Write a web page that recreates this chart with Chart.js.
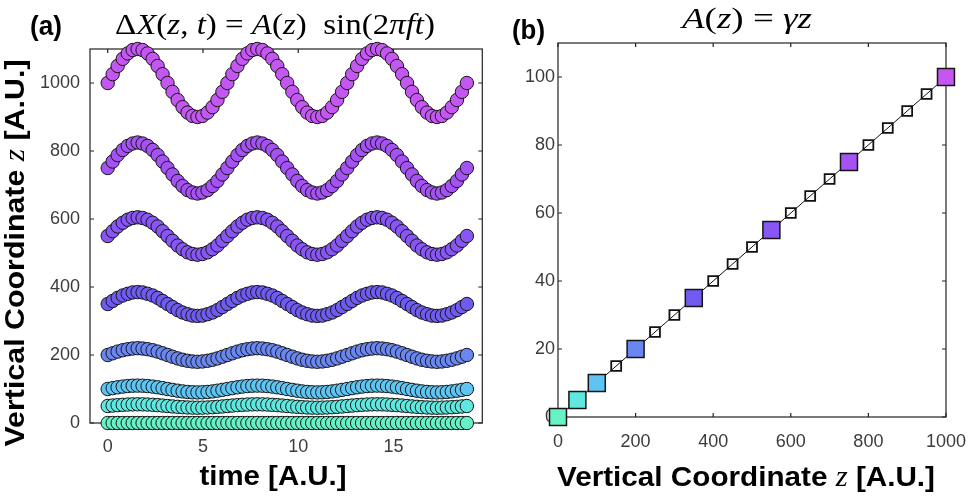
<!DOCTYPE html>
<html lang="en">
<head>
<meta charset="UTF-8">
<title>Amplitude vs vertical coordinate</title>
<script src="https://cdn.jsdelivr.net/npm/chart.js"></script>
<style>
  body { margin: 0; background: #fff; }
  #wrap { position: relative; width: 980px; height: 498px; }
  .panel { position: absolute; top: 0; width: 490px; height: 498px; }
</style>
</head>
<body>
<div id="wrap">
  <div class="panel" style="left:0"><canvas id="panelA"></canvas></div>
  <div class="panel" style="left:490px"><canvas id="panelB"></canvas></div>
</div>
<script>
// ---- data ----
// panel (a): time samples and the displaced vertical coordinate of each marker row
const time = [
  0, 0.26, 0.52, 0.79, 1.05, 1.31, 1.57, 1.83, 2.09, 2.36, 2.62, 2.88,
  3.14, 3.40, 3.67, 3.93, 4.19, 4.45, 4.71, 4.97, 5.24, 5.50, 5.76, 6.02,
  6.28, 6.54, 6.81, 7.07, 7.33, 7.59, 7.85, 8.12, 8.38, 8.64, 8.90, 9.16,
  9.42, 9.69, 9.95, 10.21, 10.47, 10.73, 11.00, 11.26, 11.52, 11.78, 12.04, 12.30,
  12.57, 12.83, 13.09, 13.35, 13.61, 13.87, 14.14, 14.40, 14.66, 14.92, 15.18, 15.45,
  15.71, 15.97, 16.23, 16.49, 16.76, 17.02, 17.28, 17.54, 17.80, 18.06, 18.33, 18.59,
  18.85
];
const zRows = [0, 50, 100, 200, 350, 550, 750, 1000];

const row0 = [
  0,0,0,0,0,0,0,0,0,0,0,0,0,0,0,0,0,0,0,0,0,0,0,0,
  0,0,0,0,0,0,0,0,0,0,0,0,0,0,0,0,0,0,0,0,0,0,0,0,
  0,0,0,0,0,0,0,0,0,0,0,0,0,0,0,0,0,0,0,0,0,0,0,0,
  0
];
const row50 = [
  50,51.3,52.5,53.5,54.3,54.8,55,54.8,54.3,53.5,52.5,51.3,50,48.7,47.5,46.5,45.7,45.2,45,45.2,45.7,46.5,47.5,48.7,
  50,51.3,52.5,53.5,54.3,54.8,55,54.8,54.3,53.5,52.5,51.3,50,48.7,47.5,46.5,45.7,45.2,45,45.2,45.7,46.5,47.5,48.7,
  50,51.3,52.5,53.5,54.3,54.8,55,54.8,54.3,53.5,52.5,51.3,50,48.7,47.5,46.5,45.7,45.2,45,45.2,45.7,46.5,47.5,48.7,
  50
];
const row100 = [
  100,102.6,105,107.1,108.7,109.7,110,109.7,108.7,107.1,105,102.6,100,97.4,95,92.9,91.3,90.3,90,90.3,91.3,92.9,95,97.4,
  100,102.6,105,107.1,108.7,109.7,110,109.7,108.7,107.1,105,102.6,100,97.4,95,92.9,91.3,90.3,90,90.3,91.3,92.9,95,97.4,
  100,102.6,105,107.1,108.7,109.7,110,109.7,108.7,107.1,105,102.6,100,97.4,95,92.9,91.3,90.3,90,90.3,91.3,92.9,95,97.4,
  100
];
const row200 = [
  200,205,210,214,217,219,220,219,217,214,210,205,200,195,190,186,183,181,180,181,183,186,190,195,
  200,205,210,214,217,219,220,219,217,214,210,205,200,195,190,186,183,181,180,181,183,186,190,195,
  200,205,210,214,217,219,220,219,217,214,210,205,200,195,190,186,183,181,180,181,183,186,190,195,
  200
];
const row350 = [
  350,359,368,375,380,384,385,384,380,375,368,359,350,341,332,325,320,316,315,316,320,325,332,341,
  350,359,368,375,380,384,385,384,380,375,368,359,350,341,332,325,320,316,315,316,320,325,332,341,
  350,359,368,375,380,384,385,384,380,375,368,359,350,341,332,325,320,316,315,316,320,325,332,341,
  350
];
const row550 = [
  550,564,578,589,598,603,605,603,598,589,578,564,550,536,522,511,502,497,495,497,502,511,522,536,
  550,564,578,589,598,603,605,603,598,589,578,564,550,536,522,511,502,497,495,497,502,511,522,536,
  550,564,578,589,598,603,605,603,598,589,578,564,550,536,522,511,502,497,495,497,502,511,522,536,
  550
];
const row750 = [
  750,769,788,803,815,822,825,822,815,803,788,769,750,731,712,697,685,678,675,678,685,697,712,731,
  750,769,788,803,815,822,825,822,815,803,788,769,750,731,712,697,685,678,675,678,685,697,712,731,
  750,769,788,803,815,822,825,822,815,803,788,769,750,731,712,697,685,678,675,678,685,697,712,731,
  750
];
const row1000 = [
  1000,1026,1050,1071,1087,1097,1100,1097,1087,1071,1050,1026,1000,974,950,929,913,903,900,903,913,929,950,974,
  1000,1026,1050,1071,1087,1097,1100,1097,1087,1071,1050,1026,1000,974,950,929,913,903,900,903,913,929,950,974,
  1000,1026,1050,1071,1087,1097,1100,1097,1087,1071,1050,1026,1000,974,950,929,913,903,900,903,913,929,950,974,
  1000
];
const rows = [row0, row50, row100, row200, row350, row550, row750, row1000];

// panel (b): amplitude A(z) at the plotted rows (big squares) and in between (small squares)
const ampRows = [0, 5, 10, 20, 35, 55, 75, 100];
const zOther = [150, 250, 300, 400, 450, 500, 600, 650, 700, 800, 850, 900, 950];
const ampOther = [15, 25, 30, 40, 45, 50, 60, 65, 70, 80, 85, 90, 95];
const zFit = [0, 1000];
const ampFit = [0, 100];

// ---- styles ----
const rowColors = ['#66f2c6', '#5ee8e0', '#5ec4f2', '#6a86f0', '#6e5cf0', '#8856f4', '#a552f4', '#c456f2'];
const SANS = '"Liberation Sans", Arial, Helvetica, sans-serif';
const SERIF = '"Liberation Serif", "Times New Roman", serif';
const tickFont = { family: SANS, size: 18 };
const tickColor = '#3c3c3c';
const B = 'bold 28px ' + SANS;
const MN = '30px ' + SERIF;
const MI = 'italic 30px ' + SERIF;
const ZI = 'italic 29px ' + SERIF;

// draws mixed-font text centred on (x, y), optionally stretched to a width
function drawRich(ctx, item) {
  ctx.save();
  ctx.translate(item.x, item.y);
  if (item.rotate) ctx.rotate(item.rotate);
  ctx.textBaseline = 'middle';
  ctx.textAlign = 'left';
  ctx.fillStyle = '#000';
  let total = 0;
  item.parts.forEach(p => { ctx.font = p[1]; total += ctx.measureText(p[0]).width; });
  if (item.width) ctx.scale(item.width / total, 1);
  let x = -total / 2;
  item.parts.forEach(p => {
    ctx.font = p[1];
    ctx.fillText(p[0], x, 0);
    x += ctx.measureText(p[0]).width;
  });
  ctx.restore();
}

const richText = {
  id: 'richText',
  afterDraw(chart, args, opts) {
    (opts.items || []).forEach(it => drawRich(chart.ctx, it));
  }
};

// matlab style box with inward ticks on all four sides
const matlabBox = {
  id: 'matlabBox',
  beforeDatasetsDraw(chart) {
    const { ctx, chartArea: a, scales: { x, y } } = chart;
    ctx.save();
    ctx.strokeStyle = '#222';
    ctx.lineWidth = 1.2;
    ctx.strokeRect(a.left, a.top, a.right - a.left, a.bottom - a.top);
    ctx.beginPath();
    x.ticks.forEach(t => {
      const px = x.getPixelForValue(t.value);
      ctx.moveTo(px, a.bottom); ctx.lineTo(px, a.bottom - 4);
      ctx.moveTo(px, a.top); ctx.lineTo(px, a.top + 4);
    });
    y.ticks.forEach(t => {
      const py = y.getPixelForValue(t.value);
      ctx.moveTo(a.left, py); ctx.lineTo(a.left + 4, py);
      ctx.moveTo(a.right, py); ctx.lineTo(a.right - 4, py);
    });
    ctx.stroke();
    ctx.restore();
  }
};

function axis(min, max, step, pad, fitFn) {
  return {
    type: 'linear', min: min, max: max,
    grid: { display: false, drawTicks: false },
    border: { display: false },
    ticks: {
      stepSize: step, includeBounds: false, padding: pad,
      font: tickFont, color: tickColor, maxRotation: 0,
      callback: v => String(v)
    },
    afterFit: fitFn
  };
}

// ---- panel (a) ----
new Chart(document.getElementById('panelA'), {
  type: 'scatter',
  data: {
    datasets: rows.map((vals, k) => ({
      label: 'z = ' + zRows[k],
      data: time.map((t, i) => ({ x: t, y: vals[i] })),
      backgroundColor: rowColors[k],
      borderColor: '#151515',
      borderWidth: 1,
      pointRadius: 6.7,
      clip: false
    }))
  },
  plugins: [matlabBox, richText],
  options: {
    responsive: true,
    maintainAspectRatio: false,
    animation: false,
    layout: { padding: { left: 0, right: 2, top: 49, bottom: 0 } },
    scales: {
      x: axis(-0.93, 19.66, 5, 13, s => { s.height = 75; }),
      y: axis(0, 1100, 200, 10, s => { s.width = 90; })
    },
    plugins: {
      legend: { display: false },
      tooltip: { enabled: false },
      richText: {
        items: [
          { x: 46, y: 27, width: 32, parts: [['(a)', B]] },
          { x: 275, y: 26, width: 320, parts: [
            ['Δ', MN], ['X', MI], ['(', MN], ['z', MI], [', ', MN], ['t', MI], [') = ', MN],
            ['A', MI], ['(', MN], ['z', MI], [')  sin(2', MN], ['πft', MI], [')', MN]
          ] },
          { x: 16, y: 253, rotate: -Math.PI / 2, width: 387, parts: [
            ['Vertical Coordinate ', B], ['z', ZI], [' [A.U.]', B]
          ] },
          { x: 273, y: 477, width: 147, parts: [['time [A.U.]', B]] }
        ]
      }
    }
  }
});

// ---- panel (b) ----
new Chart(document.getElementById('panelB'), {
  type: 'scatter',
  data: {
    datasets: [
      {
        label: 'rows',
        data: zRows.map((z, i) => ({ x: z, y: ampRows[i] })),
        pointStyle: 'rect',
        pointRadius: 12,
        backgroundColor: rowColors,
        borderColor: '#151515',
        borderWidth: 1.5,
        clip: false,
        order: 1
      },
      {
        label: 'other',
        data: zOther.map((z, i) => ({ x: z, y: ampOther[i] })),
        pointStyle: 'rect',
        pointRadius: 7,
        backgroundColor: 'rgba(0,0,0,0)',
        borderColor: '#111',
        borderWidth: 1.8,
        clip: false,
        order: 2
      },
      {
        label: 'fit',
        data: zFit.map((z, i) => ({ x: z, y: ampFit[i] })),
        showLine: true,
        pointRadius: 0,
        borderColor: '#111',
        borderWidth: 1,
        order: 3
      }
    ]
  },
  plugins: [matlabBox, richText],
  options: {
    responsive: true,
    maintainAspectRatio: false,
    animation: false,
    layout: { padding: { left: 0, right: 24, top: 43, bottom: 0 } },
    scales: {
      x: axis(0, 1000, 200, 14, s => { s.height = 81; }),
      y: axis(0, 110, 20, 3, s => { s.width = 68; })
    },
    plugins: {
      legend: { display: false },
      tooltip: { enabled: false },
      richText: {
        items: [
          { x: 38.5, y: 31, width: 33, parts: [['(b)', B]] },
          { x: 257, y: 20, width: 130, parts: [
            ['A', MI], ['(', MN], ['z', MI], [') = ', MN], ['γz', MI]
          ] },
          { x: 256, y: 478, width: 378, parts: [
            ['Vertical Coordinate ', B], ['z', ZI], [' [A.U.]', B]
          ] }
        ]
      }
    }
  }
});
</script>
</body>
</html>
